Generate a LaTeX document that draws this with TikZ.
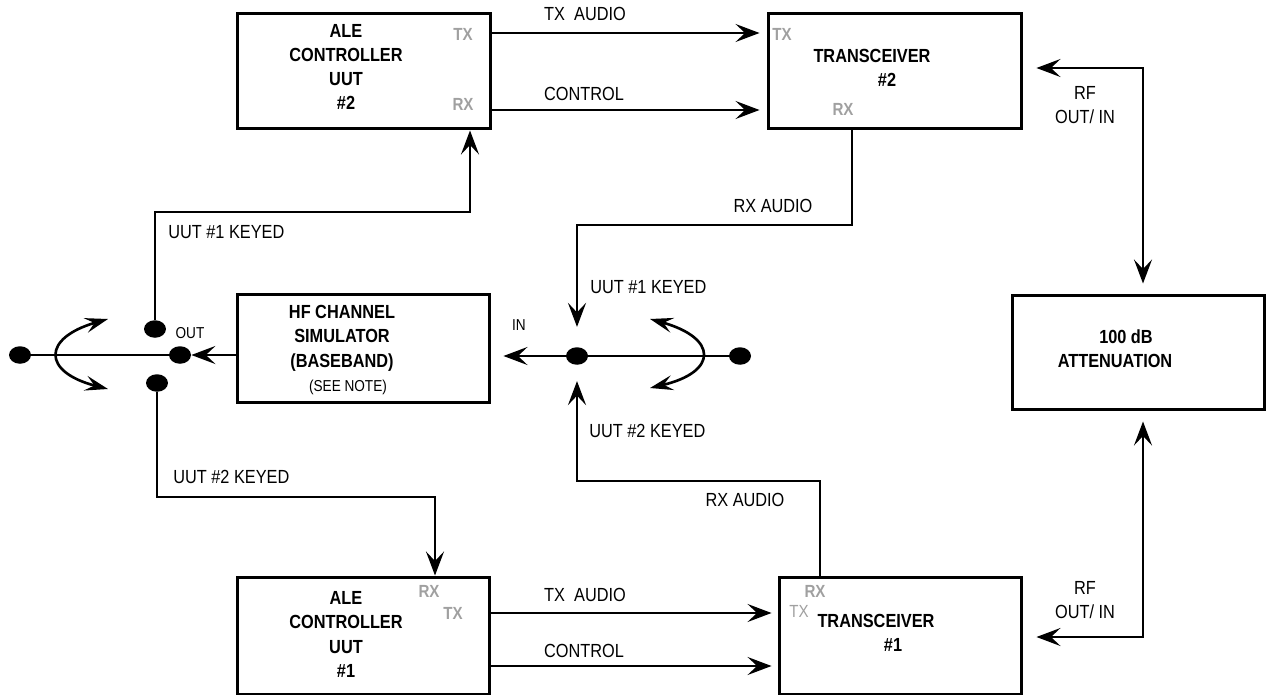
\documentclass[tikz,border=0pt]{standalone}
\usepackage{fontspec}
\setmainfont{Liberation Sans}[FakeStretch=0.86]
\usepackage{tikz}
\usetikzlibrary{arrows.meta, shapes.geometric}

\begin{document}
\begin{tikzpicture}[
    x=0.02cm, y=-0.02cm,
    box/.style = {rectangle, draw, line width=1.7pt, minimum width=5.08cm, minimum height=2.32cm, inner sep=0pt},
    boxtext/.style = {align=center, font=\fontsize{10.8}{13.8}\selectfont\bfseries, inner sep=0pt},
    port/.style = {font=\fontsize{10}{12}\selectfont\bfseries, text=portgray, inner sep=0pt},
    lbl/.style = {align=center, font=\fontsize{10.8}{13.6}\selectfont, inner sep=0pt},
    note/.style = {font=\fontsize{9}{11}\selectfont, inner sep=0pt},
    dot/.style = {ellipse, fill, minimum width=0.44cm, minimum height=0.35cm, inner sep=0pt},
    arrow/.style = {draw, line width=1.5pt, -{Stealth[length=0.48cm, width=0.36cm, inset=0.19cm]}},
    dblarrow/.style = {draw, line width=1.5pt, {Stealth[length=0.48cm, width=0.36cm, inset=0.19cm]}-{Stealth[length=0.48cm, width=0.36cm, inset=0.19cm]}},
    swing/.style = {draw, line width=1.5pt, {Stealth[length=0.46cm, width=0.3cm, inset=0.18cm]}-{Stealth[length=0.46cm, width=0.3cm, inset=0.18cm]}},
    line/.style = {draw, line width=1.5pt}
]
    % Colors definition
    \definecolor{portgray}{RGB}{160, 160, 160}

    \useasboundingbox (0,0) rectangle (1268,696);

    % Boxes
    \node (uut2) [box] at (364,71) {};
    \node (trx2) [box] at (895,71) {};
    \node (sim) [box, minimum width=5.06cm, minimum height=2.18cm] at (363.5,348.5) {};
    \node (att) [box, minimum width=5.06cm, minimum height=2.3cm] at (1138.5,352.5) {};
    \node (uut1) [box, minimum width=5.06cm, minimum height=2.34cm] at (363.5,635.5) {};
    \node (trx1) [box, minimum width=4.86cm, minimum height=2.34cm] at (900.5,635.5) {};

    % Box texts
    \node (uut2txt) [boxtext] at (346,67) {ALE\\CONTROLLER\\UUT\\\#2};
    \node (trx2txt) [boxtext] at (872,67.5) {TRANSCEIVER\\\hspace*{0.6cm}\#2};
    \node (simtxt) [boxtext] at (342,350) {HF CHANNEL\\SIMULATOR\\(BASEBAND)\\\hspace*{0.24cm}{\mdseries\fontsize{9}{11}\selectfont (SEE NOTE)}};
    \node (atttxt) [boxtext] at (1115,349) {\hspace*{0.44cm}100 dB\\ATTENUATION};
    \node (uut1txt) [boxtext] at (346,634.5) {ALE\\CONTROLLER\\UUT\\\#1};
    \node (trx1txt) [boxtext] at (876,632.5) {TRANSCEIVER\\\hspace*{0.68cm}\#1};

    % Port labels
    \node (uut2tx) [port] at (463,34) {TX};
    \node (uut2rx) [port] at (463,104) {RX};
    \node (trx2tx) [port] at (782,34) {TX};
    \node (trx2rx) [port] at (843,109) {RX};
    \node (uut1rx) [port] at (429,591) {RX};
    \node (uut1tx) [port] at (453,613) {TX};
    \node (trx1rx) [port] at (815,591) {RX};
    \node (trx1tx) [port, font=\fontsize{10}{12}\selectfont] at (799,611) {TX};

    % Switch contacts
    \node (swL) [dot] at (20,355) {};
    \node (swC) [dot] at (180,355) {};
    \node (swT) [dot] at (155,329) {};
    \node (swB) [dot] at (157,383) {};
    \node (swR1) [dot] at (577,356) {};
    \node (swR2) [dot] at (740,356) {};
    \coordinate (swingL1) at (108,319);
    \coordinate (swingL2) at (108,389);
    \coordinate (swingR1) at (650,319);
    \coordinate (swingR2) at (650,388);

    % Connector labels
    \node (lbltx2) [lbl] at (585,14) {TX~ AUDIO};
    \node (lblctl2) [lbl] at (584,94) {CONTROL};
    \node (lblrx2) [lbl] at (773,206) {RX AUDIO};
    \node (lblkey1r) [lbl, anchor=west] at (590,287) {UUT \#1 KEYED};
    \node (lblin) [note] at (519,325) {IN};
    \node (lblkey2r) [lbl, anchor=west] at (589,431) {UUT \#2 KEYED};
    \node (lblrx1) [lbl] at (745,500) {RX AUDIO};
    \node (lblkey1l) [lbl, anchor=west] at (168,232) {UUT \#1 KEYED};
    \node (lblout) [note] at (190,333) {OUT};
    \node (lblkey2l) [lbl, anchor=west] at (173,477) {UUT \#2 KEYED};
    \node (lbltx1) [lbl] at (585,595) {TX~ AUDIO};
    \node (lblctl1) [lbl] at (584,651) {CONTROL};
    \node (lblrf2) [lbl] at (1085,105) {RF\\OUT/ IN};
    \node (lblrf1) [lbl] at (1085,600) {RF\\OUT/ IN};

    % Connections
    \draw [arrow, shorten >=0.14cm] (uut2.east |- 0,33) -- (trx2.west |- 0,33);
    \draw [arrow, shorten >=0.14cm] (uut2.east |- 0,110) -- (trx2.west |- 0,110);
    \draw [arrow, shorten >=0.12cm] (uut1.east |- 0,613) -- (trx1.west |- 0,613);
    \draw [arrow, shorten >=0.12cm] (uut1.east |- 0,666) -- (trx1.west |- 0,666);

    \draw [arrow, shorten >=0.4cm] (trx2.south -| 852,0) |- (577,225) -- (swR1);
    \draw [arrow, shorten >=0.32cm] (trx1.north -| 820,0) |- (577,481) -- (swR1);
    \draw [arrow, shorten >=0.24cm] (swR1) -- (sim.east |- swR1);
    \path [line] (swR1) -- (swR2);

    \path [line] (swL) -- (swC);
    \draw [arrow] (sim.west |- swC) -- (swC);
    \draw [arrow] (swT) -- (155,212) -| (uut2.south -| 470,0);
    \draw [arrow] (swB) -- (157,497) -| (uut1.north -| 435,0);

    \draw [dblarrow, shorten <=0.26cm, shorten >=0.2cm] (trx2.east |- 0,68) -| (att.north -| 1143,0);
    \draw [dblarrow, shorten <=0.2cm, shorten >=0.26cm] (att.south -| 1143,0) |- (trx1.east |- 0,637);

    \draw [swing] (swingL1) .. controls (42,338) and (42,372) .. (swingL2);
    \draw [swing] (swingR1) .. controls (718,338) and (718,372) .. (swingR2);

\end{tikzpicture}
\end{document}
